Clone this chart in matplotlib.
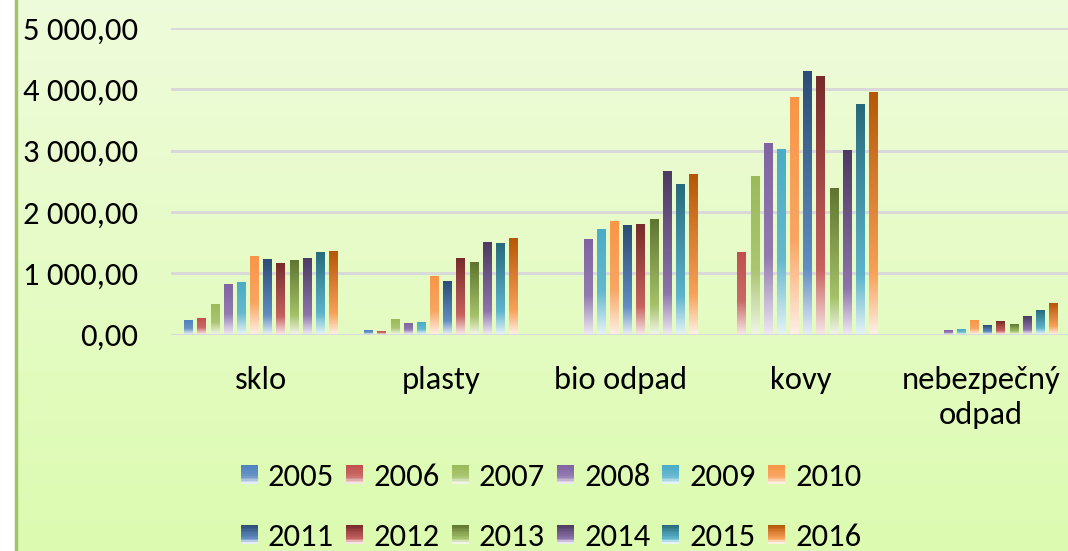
import numpy as np
import matplotlib
matplotlib.use("Agg")
import matplotlib.pyplot as plt
from matplotlib.colors import to_rgb
from matplotlib.patches import Patch, Rectangle
from matplotlib.legend_handler import HandlerBase

plt.rcParams['font.family'] = ['Carlito', 'Lato', 'DejaVu Sans']

kategorie = ["sklo", "plasty", "bio odpad", "kovy", "nebezpečný\nodpad"]
roky = ["2005", "2006", "2007", "2008", "2009", "2010",
        "2011", "2012", "2013", "2014", "2015", "2016"]

# hodnoty po rokoch pre kazdu kategoriu
sklo = [220, 253, 481, 807, 840, 1264, 1215, 1150, 1199, 1232, 1325, 1351]
plasty = [57, 41, 237, 171, 188, 938, 856, 1226, 1172, 1493, 1481, 1558]
bio_odpad = [0, 0, 0, 1542, 1699, 1841, 1770, 1787, 1869, 2646, 2433, 2607]
kovy = [0, 1335, 2569, 3113, 3010, 3863, 4282, 4206, 2367, 2987, 3739, 3940]
nebezpecny = [0, 0, 0, 57, 73, 220, 139, 204, 155, 285, 383, 498]

svetle = ["#4F81BD", "#C0504D", "#9BBB59", "#8064A2", "#4BACC6", "#F79646"]
tmave = ["#2C4D75", "#772C2A", "#5F7530", "#4D3B62", "#276A7C", "#B65708"]


def mix(c, t):
    c = np.array(to_rgb(c))
    return c * (1 - t) + np.array([1, 1, 1]) * t


def gradient(i, n=120):
    # farby od vrchu po spodok stlpca
    if i < 6:
        stops = [(0.0, mix(svetle[i], 0)), (0.6, mix(svetle[i], 0.15)),
                 (1.0, mix(svetle[i], 0.85))]
    else:
        stops = [(0.0, mix(tmave[i - 6], 0)), (0.75, mix(svetle[i - 6], 0.1)),
                 (1.0, mix(svetle[i - 6], 0.85))]
    t = np.linspace(0, 1, n)
    pos = [s[0] for s in stops]
    out = np.zeros((n, 1, 3))
    for k in range(3):
        out[:, 0, k] = np.interp(t, pos, [s[1][k] for s in stops])
    return out


class GradHandler(HandlerBase):
    def __init__(self, idx):
        super().__init__()
        self.idx = idx

    def create_artists(self, legend, orig_handle, xdescent, ydescent,
                       width, height, fontsize, trans):
        n = 12
        cols = gradient(self.idx, n)
        arts = []
        for k in range(n):
            arts.append(Rectangle((-xdescent, -ydescent + height * (1 - (k + 1) / n)),
                                  width, height / n + 0.3, facecolor=cols[k, 0],
                                  edgecolor="none", transform=trans))
        return arts


data = np.array([sklo, plasty, bio_odpad, kovy, nebezpecny])
fs = 23.5

fig = plt.figure(figsize=(10.68, 5.51), dpi=100)
fig.patch.set_facecolor("white")

# pozadie grafu
bg = fig.add_axes([16 / 1068, 0, 1 - 16 / 1068, 1])
grad = np.linspace(0, 1, 200)[:, None, None]
top = np.array(to_rgb("#EFFCDB"))
bot = np.array(to_rgb("#DCFBB0"))
bg.imshow(top * (1 - grad) + bot * grad, aspect="auto", extent=(0, 1, 0, 1))
bg.set_xticks([])
bg.set_yticks([])
for s in ["top", "right", "bottom"]:
    bg.spines[s].set_visible(False)
bg.spines["left"].set_color("#A3C36A")
bg.spines["left"].set_linewidth(2.5)

ax = fig.add_axes([171 / 1068, 1 - 334.5 / 551, 900 / 1068, (334.5 - 28) / 551])
ax.set_facecolor("none")

x = np.arange(len(kategorie))
krok = 0.0733
sirka = 0.048
for i, rok in enumerate(roky):
    bars = ax.bar(x + (i - 5.5) * krok, data[:, i], width=sirka, color="none",
                  edgecolor="none", zorder=3)
    for b in bars:
        h = b.get_height()
        if h <= 0:
            continue
        ax.imshow(gradient(i), aspect="auto", origin="upper", zorder=3,
                  extent=(b.get_x(), b.get_x() + b.get_width(), 0, h))

ax.set_xlim(-0.5, 4.5)
ax.set_ylim(0, 5000)
ax.set_yticks(np.arange(0, 5001, 1000))
ax.set_yticklabels([f"{v:,.2f}".replace(",", " ").replace(".", ",") for v in range(0, 5001, 1000)])
ax.set_xticks(x)
ax.set_xticklabels(kategorie, linespacing=1.32)
ax.tick_params(axis="y", length=0, pad=24, labelsize=fs)
ax.tick_params(axis="x", length=0, pad=22.5, labelsize=fs)
ax.yaxis.grid(True, color="#D9D9D9", linewidth=2.2, zorder=1)
ax.set_axisbelow(True)
for s in ax.spines.values():
    s.set_visible(False)

# legenda po stlpcoch (ncol=6)
handles = [Patch(facecolor=(svetle + tmave)[i], edgecolor="none") for i in range(12)]
hmap = {handles[i]: GradHandler(i) for i in range(12)}
poradie = []
for c in range(6):
    poradie += [c, c + 6]
fig.legend([handles[i] for i in poradie], [roky[i] for i in poradie], ncol=6,
           loc="upper center", bbox_to_anchor=(0.516, 1 - 434 / 551), frameon=False,
           fontsize=fs, handlelength=0.52, handleheight=0.52, handletextpad=0.31,
           columnspacing=0.37, labelspacing=0.97, handler_map=hmap)

fig.savefig("out.png", dpi=100)
